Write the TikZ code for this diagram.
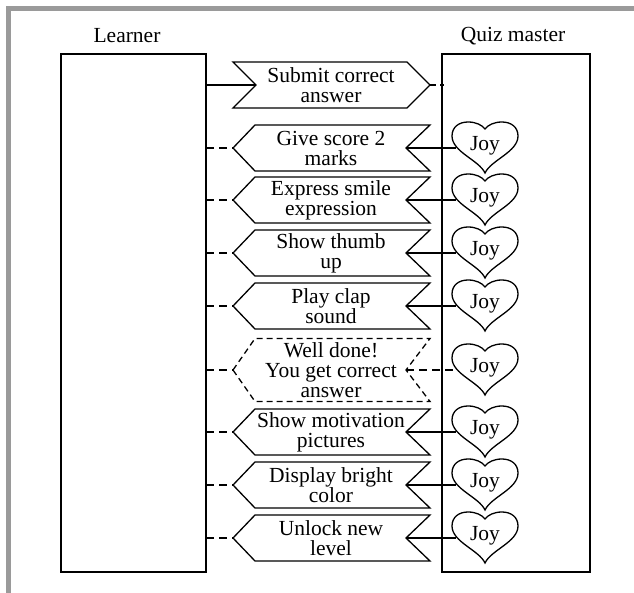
\documentclass[tikz,border=0pt]{standalone}
\usepackage{fontspec}
\setmainfont{Liberation Serif}
\definecolor{framegray}{HTML}{9A9A9A}
\tikzset{
  box/.style={draw, line width=1.5pt, rectangle, inner sep=0pt, outer sep=0pt},
  ban/.style={draw, line width=1.3pt, line join=miter},
  bantext/.style={align=center, inner sep=0pt, font=\fontsize{21.5}{20}\selectfont},
  lbl/.style={inner sep=0pt, font=\fontsize{21.5}{21}\selectfont},
  con/.style={line width=1.3pt},
  dcon/.style={line width=1.3pt, dash pattern=on 8pt off 5pt},
  banDashed/.style={dash pattern=on 6pt off 4pt},
  heartline/.style={line width=1.3pt},
  joy/.style={minimum width=58pt, minimum height=48pt, inner sep=0pt, font=\fontsize{21.5}{21}\selectfont}
}
\newcommand\lban[5]{% name, y, half height, text, style
  \node[bantext] (#1) at (331,#2) {#4};
  \draw[ban,#5] (233,#2) coordinate (#1-tip) -- (255,{#2-#3}) -- (430,{#2-#3})
     -- (406,#2) coordinate (#1-notch) -- (430,{#2+#3}) -- (255,{#2+#3}) -- cycle;
}
\newcommand\heartat[2]{% name, y
  \draw[heartline, shift={(485,#2)}] (0,25) .. controls (-6,12) and (-33,4) .. (-33,-12)
     .. controls (-33,-21) and (-26,-26) .. (-17,-26)
     .. controls (-9,-26) and (-3,-23) .. (0,-19)
     .. controls (3,-23) and (9,-26) .. (17,-26)
     .. controls (26,-26) and (33,-21) .. (33,-12)
     .. controls (33,4) and (6,12) .. (0,25) -- cycle;
  \node[joy] (#1) at (485,{#2-2}) {Joy};
}
\begin{document}
\begin{tikzpicture}[x=1pt,y=-1pt]
  \useasboundingbox (0,0) rectangle (634,593);
  \fill[framegray] (6,6) rectangle (634,11);
  \fill[framegray] (6,6) rectangle (11,593);

  \node[lbl] (learnerlbl) at (127,36) {Learner};
  \node[lbl] (quizlbl) at (513,36) {Quiz master};
  \node[box, minimum width=145pt, minimum height=518pt] (learner) at (133.5,313) {};
  \node[box, minimum width=148pt, minimum height=518pt] (quiz) at (516,313) {};

  % Submit banner (right pointing)
  \node[bantext] (sub) at (331,85) {Submit correct\\answer};
  \draw[ban] (233,62) -- (407,62) -- (430,85) coordinate (sub-tip) -- (407,108)
     -- (233,108) -- (256,85) coordinate (sub-notch) -- cycle;
  \draw[con] (learner.east |- sub-notch) -- (sub-notch);
  \draw[dcon, dash pattern=on 6pt off 4pt] (sub-tip) -- ([xshift=2pt]sub-tip -| quiz.west);

  \lban{b2}{148}{23}{Give score 2\\marks}{}
  \lban{b3}{200}{23}{Express smile\\expression}{}
  \lban{b4}{253}{23}{Show thumb\\up}{}
  \lban{b5}{306}{23}{Play clap\\sound}{}
  \lban{b6}{370}{31.5}{\fontsize{21.5}{18.5}\selectfont Well done!\\You get correct\\answer}{banDashed}
  \lban{b7}{432}{23}{Show motivation\\pictures}{}
  \lban{b8}{485}{23}{Display bright\\color}{}
  \lban{b9}{538}{23}{Unlock new\\level}{}

  \heartat{h2}{148}
  \heartat{h3}{200}
  \heartat{h4}{253}
  \heartat{h5}{306}
  \heartat{h6}{370}
  \heartat{h7}{432}
  \heartat{h8}{485}
  \heartat{h9}{538}

  \foreach \i in {2,3,4,5,6,7,8,9} {
    \draw[dcon] (learner.east |- b\i-tip) -- (b\i-tip);
  }
  \foreach \i in {2,3,4,5,7,8,9} {
    \draw[con] (b\i-notch) -- (h\i.west |- b\i-notch);
  }
  \draw[dcon] (b6-notch) -- (h6.west |- b6-notch);
\end{tikzpicture}
\end{document}
